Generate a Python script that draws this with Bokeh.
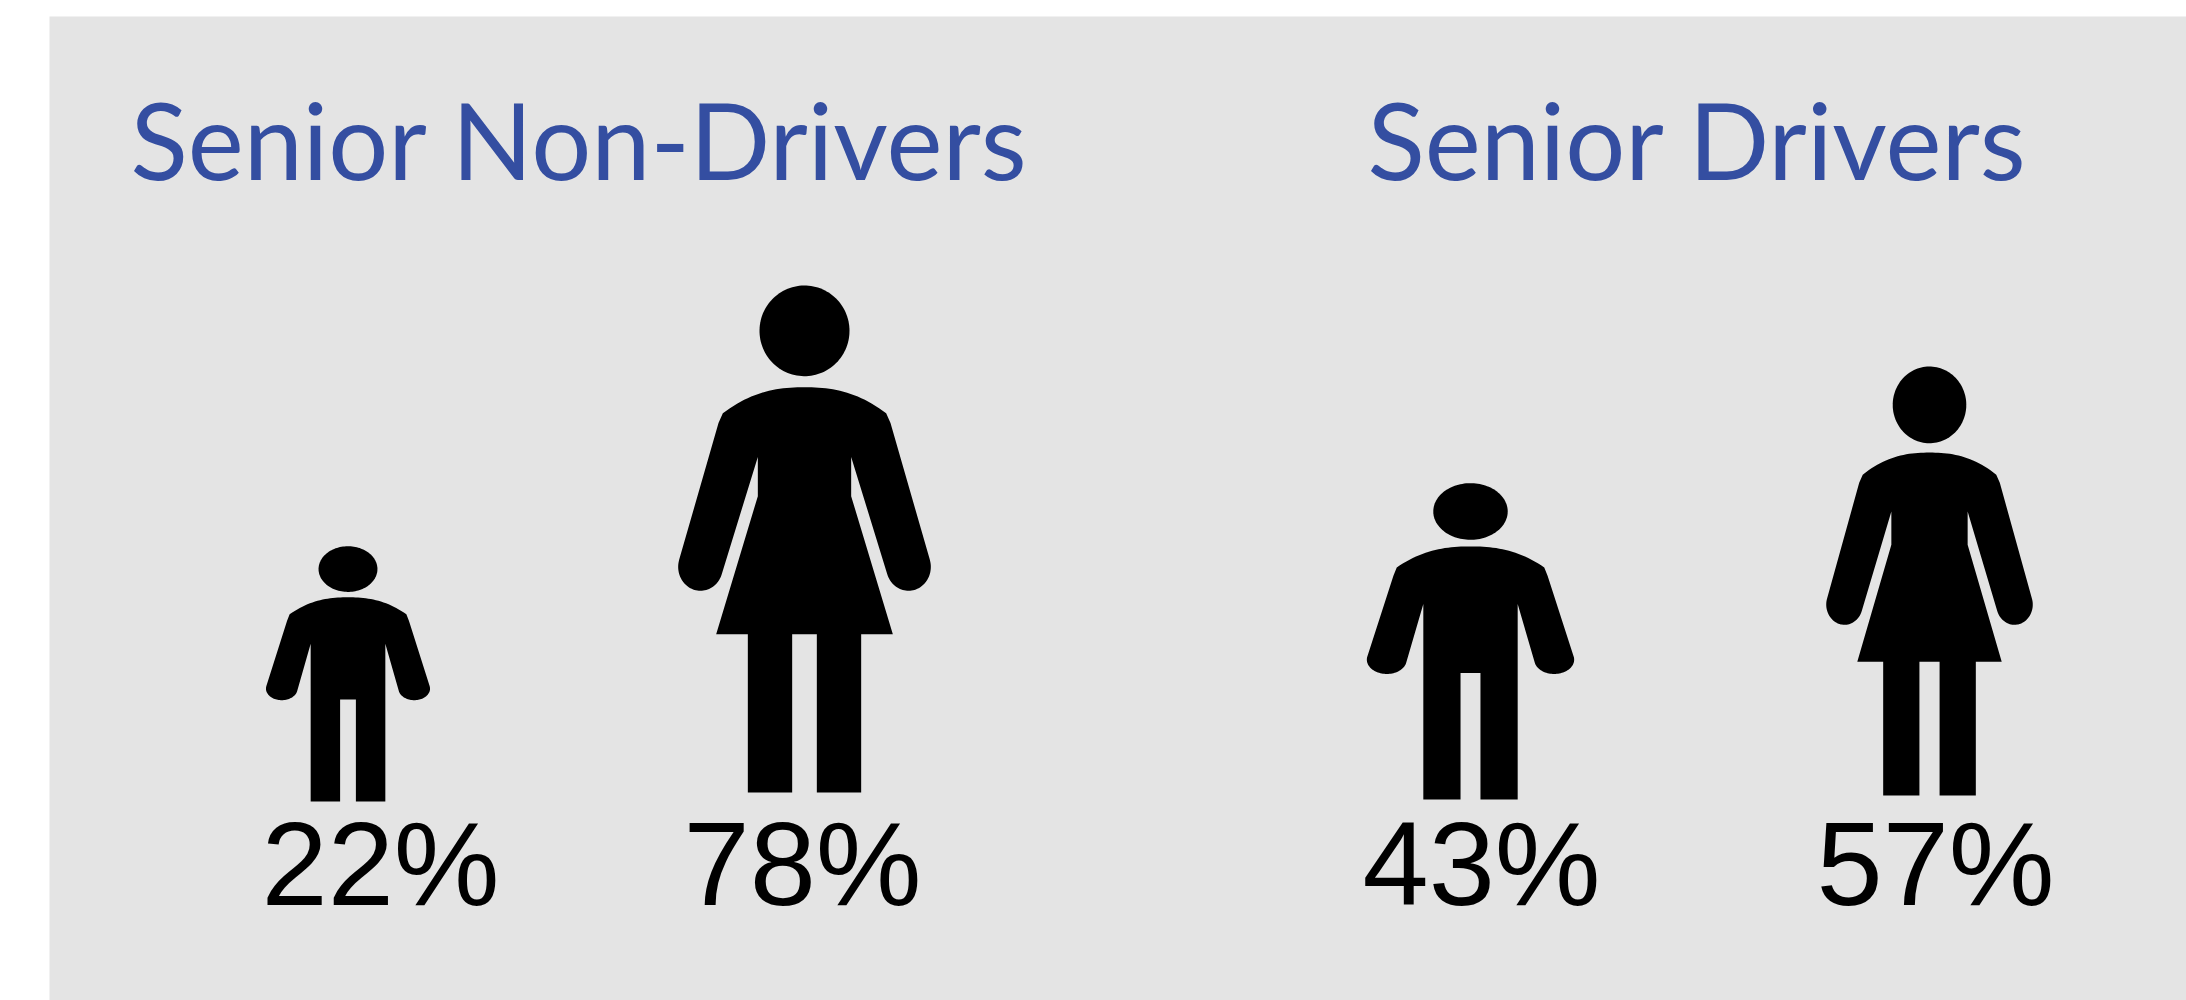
import numpy as np
from bokeh.plotting import figure
from bokeh.embed import file_html
from bokeh.resources import INLINE
from bokeh.core.properties import value
from bokeh.models import Range1d

# ---- chart content
group_titles = ["Senior Non-Drivers", "Senior Drivers"]
shares = [22, 78, 43, 57]
figure_kinds = ["man", "woman", "man", "woman"]

# ---- layout (page pixels)
GRAY, BLUE = "#E4E4E4", "#344EA1"
title_x = [130, 1367]
title_base = 178
label_x = [261, 683, 1362, 1816]
label_base = 903
text_shift = -40
frames = [(266, 429, 546, 801), (678, 930, 285, 792), (1367, 1573, 483, 799), (1826, 2032, 366, 795)]


def arc(cx, cy, rx, ry, a0, a1, n=48):
    t = np.radians(np.linspace(a0, a1, n))
    return list(zip(cx + rx * np.cos(t), cy + ry * np.sin(t)))


def shoulder(y0, x1, y1, n=24):
    xs = np.linspace(0, x1, n)
    return list(zip(xs, y0 + (y1 - y0) * (xs / x1) ** 2.4))


# right half of each pictogram outline, in its own design units (mirrored afterwards)
woman_half = (
    shoulder(355, 245, 428) + [(258, 455)]
    + arc(312, 858, 67, 67, -17, 162)
    + [(140, 550), (140, 660), (265, 1047), (170, 1047), (170, 1490), (37, 1490), (37, 1047), (0, 1047)]
)
man_half = (
    shoulder(257, 222, 320) + [(232, 345)]
    + arc(252, 597, 60, 43, -13, 167)
    + [(142, 430), (142, 1017), (30, 1017), (30, 637), (0, 637)]
)
templates = {
    "woman": dict(half=woman_half, head=(197, 135, 127), top=70, bottom=1490, hw=378),
    "man": dict(half=man_half, head=(152, 112, 85), top=68, bottom=1017, hw=310),
}

shape_xs, shape_ys = [], []
for kind, (x0, x1, y0, y1) in zip(figure_kinds, frames):
    t = templates[kind]
    sx = (x1 - x0) / (2 * t["hw"])
    sy = (y1 - y0) / (t["bottom"] - t["top"])
    cx = (x0 + x1) / 2
    half = np.array(t["half"], dtype=float)
    px = np.concatenate([half[:, 0], -half[::-1, 0]])
    py = np.concatenate([half[:, 1], half[::-1, 1]])
    shape_xs.append(list(cx + px * sx))
    shape_ys.append(list(y0 + (py - t["top"]) * sy))
    hy, rx, ry = t["head"]
    head = np.array(arc(0, hy, rx, ry, 0, 360, n=120))
    shape_xs.append(list(cx + head[:, 0] * sx))
    shape_ys.append(list(y0 + (head[:, 1] - t["top"]) * sy))

p = figure(width=2186, height=1000, output_backend="svg", toolbar_location=None,
           x_range=Range1d(0, 2186), y_range=Range1d(1000, 0),
           x_axis_location=None, y_axis_location=None, min_border=0,
           background_fill_color="white", border_fill_color="white")
p.grid.visible = False
p.outline_line_color = None

p.quad(left=[49], right=[2186], top=[16], bottom=[1000], fill_color=GRAY, line_color=None)
p.patches(shape_xs, shape_ys, fill_color="black", line_color=None)

p.text(title_x, [title_base + text_shift] * 2, text=group_titles, text_color=BLUE,
       text_font=value("Lato"), text_font_size="106px", text_baseline="alphabetic", text_align="left")
p.text(label_x, [label_base + text_shift] * 4, text=[f"{v}%" for v in shares], text_color="black",
       text_font=value("Liberation Sans"), text_font_size="119px", text_baseline="alphabetic", text_align="left")

open("out.html", "w").write(file_html(p, INLINE))
